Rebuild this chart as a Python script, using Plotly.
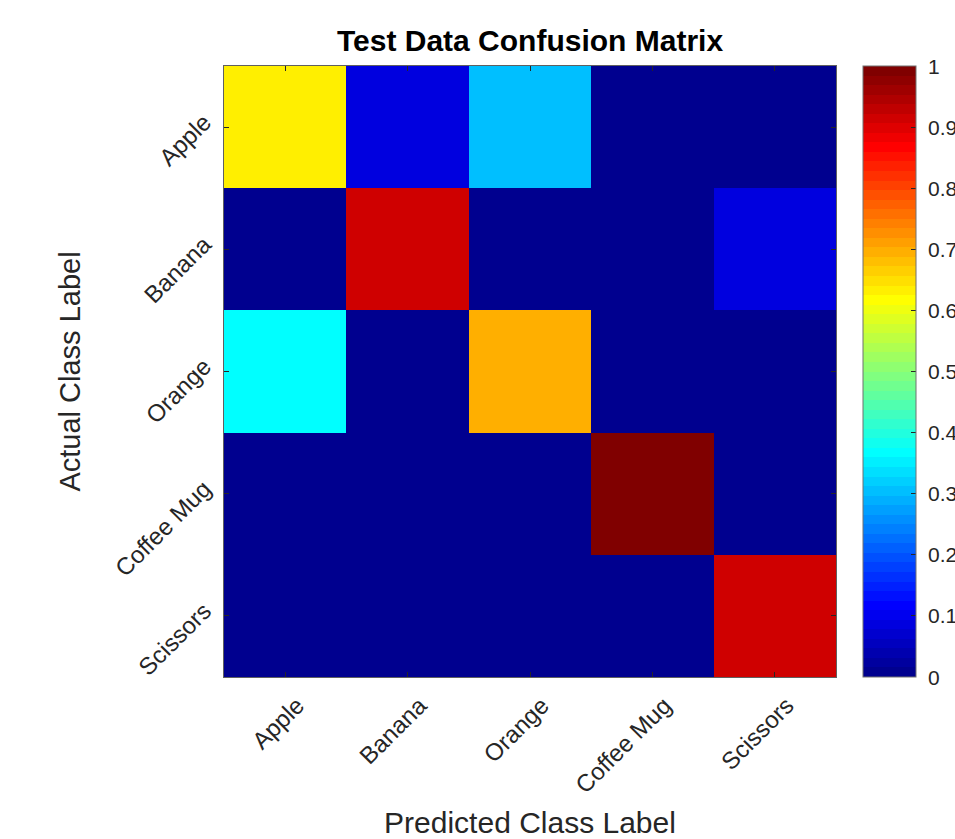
import plotly.graph_objects as go

classes = ["Apple", "Banana", "Orange", "Coffee Mug", "Scissors"]
# rows: actual class, columns: predicted class
row_apple = [0.63, 0.08, 0.30, 0.0, 0.0]
row_banana = [0.0, 0.91, 0.0, 0.0, 0.09]
row_orange = [0.365, 0.0, 0.70, 0.0, 0.0]
row_mug = [0.0, 0.0, 0.0, 1.0, 0.0]
row_scissors = [0.0, 0.0, 0.0, 0.0, 0.91]
z = [row_apple, row_banana, row_orange, row_mug, row_scissors]

cbar_ticks = [0, 0.1, 0.2, 0.3, 0.4, 0.5, 0.6, 0.7, 0.8, 0.9, 1]
cbar_text = ["0", "0.1", "0.2", "0.3", "0.4", "0.5", "0.6", "0.7", "0.8", "0.9", "1"]


def matlab_jet(m=64):
    n = -(-m // 4)
    u = [k / n for k in range(1, n + 1)] + [1.0] * (n - 1) + [k / n for k in range(n, 0, -1)]
    off = -(-n // 2) - (1 if m % 4 == 1 else 0)

    def pick(idx):
        return u[idx - 1] if 1 <= idx <= len(u) else 0.0

    cols = []
    for i in range(1, m + 1):
        gi = i - off
        r = pick(gi - n)
        g = pick(gi)
        b = pick(gi + n)
        cols.append("rgb(%d,%d,%d)" % (round(r * 255), round(g * 255), round(b * 255)))
    scale = []
    for i, c in enumerate(cols):
        scale.append([i / m, c])
        scale.append([(i + 1) / m, c])
    return scale


font = "Liberation Sans, Arial, sans-serif"
txt = "#262626"

W, H = 955, 839
L, R, T, B = 224, 119, 66, 162
plot_w = W - L - R

fig = go.Figure(
    go.Heatmap(
        z=z,
        x=classes,
        y=classes,
        zmin=0,
        zmax=1,
        colorscale=matlab_jet(64),
        colorbar=dict(
            x=(863 - L) / plot_w,
            xanchor="left",
            xpad=0,
            y=0,
            yanchor="bottom",
            len=1,
            lenmode="fraction",
            ypad=0,
            thickness=53,
            tickvals=cbar_ticks,
            ticks="inside",
            ticklen=5,
            tickcolor=txt,
            showticklabels=False,
            outlinewidth=1,
            outlinecolor="#707070",
        ),
    )
)

# colorbar tick labels (run past the right edge, as in the reference)
for v, t in zip(cbar_ticks, cbar_text):
    fig.add_annotation(
        x=(926 - L) / plot_w,
        y=v,
        xref="paper",
        yref="paper",
        text=t,
        showarrow=False,
        xanchor="left",
        yanchor="middle",
        font=dict(family=font, size=21, color=txt),
    )

fig.update_layout(
    width=W,
    height=H,
    margin=dict(l=L, r=R, t=T, b=B),
    paper_bgcolor="white",
    plot_bgcolor="white",
    title=dict(
        text="<b>Test Data Confusion Matrix</b>",
        x=(224 + 836) / 2 / W,
        xanchor="center",
        y=1 - 40 / H,
        yanchor="middle",
        font=dict(family=font, size=30, color="black"),
    ),
)
fig.update_xaxes(
    automargin=False,
    tickangle=-45,
    ticks="inside",
    ticklen=5,
    tickcolor=txt,
    showline=True,
    linecolor="#606060",
    linewidth=1,
    mirror="ticks",
    ticklabelstandoff=4,
    ticklabelshift=12,
    tickfont=dict(family=font, size=24, color=txt),
    title=dict(text="Predicted Class Label", font=dict(family=font, size=30, color=txt), standoff=16),
)
fig.update_yaxes(
    automargin=False,
    autorange="reversed",
    tickangle=-45,
    ticks="inside",
    ticklen=5,
    tickcolor=txt,
    showline=True,
    linecolor="#606060",
    linewidth=1,
    mirror="ticks",
    ticklabelstandoff=14,
    ticklabelshift=8,
    tickfont=dict(family=font, size=24, color=txt),
    title=dict(text="Actual Class Label", font=dict(family=font, size=29, color=txt), standoff=20),
)

fig.write_html("out.html")
